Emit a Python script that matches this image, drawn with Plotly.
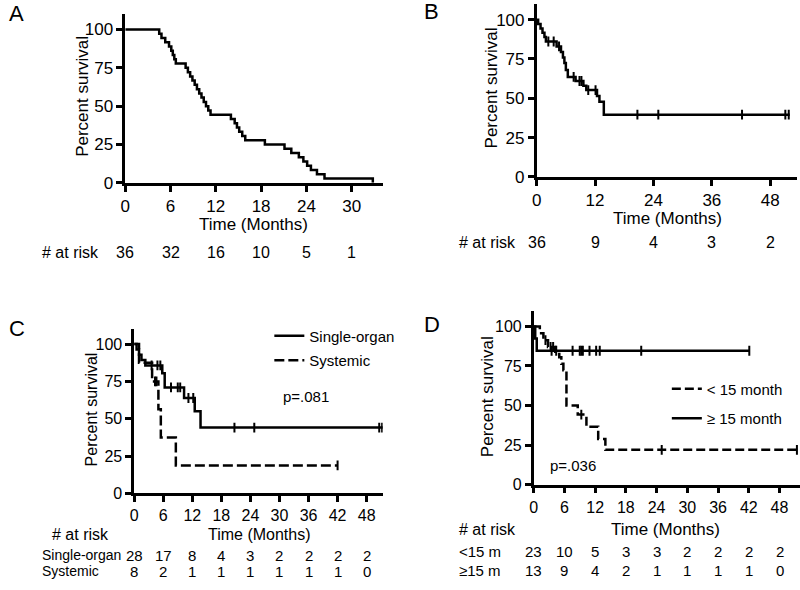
import numpy as np
import plotly.graph_objects as go

# ---------------- data ----------------
# Panel A (overall, n=36)
a_time = [0, 4.5, 4.8, 5.3, 5.8, 6.1, 6.3, 6.5, 6.7, 8.0, 8.3, 8.6, 8.9, 9.2, 9.5, 9.8, 10.1,
          10.4, 10.7, 11.0, 11.3, 14.0, 14.5, 14.8, 15.1, 15.5, 15.9, 18.5, 21.1, 22.0, 23.0,
          23.6, 24.1, 24.6, 25.4, 26.4, 32.8]
a_surv = [100, 97.2, 94.4, 91.7, 88.9, 86.1, 83.3, 80.6, 77.8, 75.0, 72.2, 69.4, 66.7, 63.9,
          61.1, 58.3, 55.6, 52.8, 50.0, 47.2, 44.4, 41.7, 38.9, 36.1, 33.3, 30.6, 27.8, 25.0,
          22.2, 19.4, 16.7, 13.9, 11.1, 8.3, 5.6, 2.8, 0]
a_risk_t = [0, 6, 12, 18, 24, 30]
a_risk = [36, 32, 16, 10, 5, 1]

# Panel B (n=36)
b_time = [0, 0.3, 0.8, 1.2, 1.6, 1.9, 4.1, 5.0, 5.4, 5.7, 6.0, 6.4, 8.0, 9.6, 10.2, 12.4,
          12.9, 13.8, 52.0]
b_surv = [100, 97.2, 94.4, 91.7, 88.9, 86.1, 83.0, 79.5, 76.0, 72.5, 68.0, 63.6, 61.0, 58.0,
          55.2, 51.5, 47.8, 39.6, 39.6]
b_cens = [2.4, 3.5, 4.6, 7.6, 8.8, 9.2, 10.6, 12.1, 20.7, 25.0, 42.2, 51.1, 51.8]
b_risk_t = [0, 12, 24, 36, 48]
b_risk = [36, 9, 4, 3, 2]

# Panel C
c1_name = "Single-organ"
c1_time = [0, 0.5, 1.0, 1.5, 2.3, 5.8, 6.3, 10.3, 12.5, 13.7, 51.5]
c1_surv = [100, 96.4, 92.9, 89.3, 85.7, 80.4, 71.0, 63.9, 55.0, 44.1, 44.1]
c1_cens = [3.6, 4.8, 5.4, 7.6, 9.0, 9.5, 11.2, 12.2, 20.7, 24.8, 50.6, 51.2]
c2_name = "Systemic"
c2_time = [0, 1.0, 3.7, 5.0, 5.5, 8.6, 42.0]
c2_surv = [100, 87.5, 75.0, 56.3, 37.5, 18.8, 18.8]
c2_cens = [4.3, 4.6, 42.0]
c_risk_t = [0, 6, 12, 18, 24, 30, 36, 42, 48]
c_risk_single = [28, 17, 8, 4, 3, 2, 2, 2, 2]
c_risk_sys = [8, 2, 1, 1, 1, 1, 1, 1, 0]
c_pval = "p=.081"

# Panel D
d1_name = "< 15 month"
d1_time = [0, 1.2, 1.9, 2.8, 4.2, 5.0, 5.4, 5.8, 6.4, 8.6, 10.3, 12.6, 14.0, 52.0]
d1_surv = [100, 95.7, 91.3, 87.0, 84.0, 80.5, 76.4, 72.3, 50.0, 44.3, 36.6, 28.8, 22.0, 22.0]
d1_cens = [2.3, 3.3, 3.8, 9.3, 25.0, 51.4]
d2_name = "≥ 15 month"
d2_time = [0, 0.3, 0.6, 42.1]
d2_surv = [100, 92.3, 84.6, 84.6]
d2_cens = [3.5, 4.4, 7.6, 9.0, 9.3, 9.6, 10.9, 12.2, 12.9, 21.0, 42.1]
d_risk_t = [0, 6, 12, 18, 24, 30, 36, 42, 48]
d_risk_lt = [23, 10, 5, 3, 3, 2, 2, 2, 2]
d_risk_ge = [13, 9, 4, 2, 1, 1, 1, 1, 0]
d_pval = "p=.036"

y_ticks = [0, 25, 50, 75, 100]

# ---------------- figure ----------------
W, H = 800, 590
FONT = "Liberation Sans, Arial, sans-serif"
fig = go.Figure()


def px_x(p):
    return p / W


def px_y(p):
    return 1 - p / H


def step_at(times, surv, t):
    idx = np.searchsorted(np.array(times), t, side="right") - 1
    return [surv[i] for i in idx]


def add_curve(n, times, surv, cens, name=None, dash="solid", legend=None, group=None):
    xa, ya = f"x{n}", f"y{n}"
    fig.add_trace(go.Scatter(
        x=times, y=surv, mode="lines", line=dict(color="black", width=2.5, dash=dash, shape="hv"),
        xaxis=xa, yaxis=ya, name=name or "", showlegend=name is not None,
        legend=legend or "legend", legendgroup=group, hoverinfo="skip"))
    if cens:
        fig.add_trace(go.Scatter(
            x=cens, y=step_at(times, surv, cens), mode="markers",
            marker=dict(symbol="line-ns", size=7, line=dict(color="black", width=2)),
            xaxis=xa, yaxis=ya, showlegend=False, hoverinfo="skip"))


add_curve(1, a_time, a_surv, [])
add_curve(2, b_time, b_surv, b_cens)
add_curve(3, c1_time, c1_surv, c1_cens, name=c1_name, legend="legend", group="c1")
add_curve(3, c2_time, c2_surv, c2_cens, name=c2_name, dash="10px,4px", legend="legend", group="c2")
add_curve(4, d1_time, d1_surv, d1_cens, name=d1_name, dash="9px,4px", legend="legend2", group="d1")
add_curve(4, d2_time, d2_surv, d2_cens, name=d2_name, legend="legend2", group="d2")

# axis geometry (pixel positions of the plot areas)
panels = {
    1: dict(x0=121, x1=380, y0=186, y1=14.4, xr=34.1, xt=[0, 6, 12, 18, 24, 30], fs=17),
    2: dict(x0=535, x1=797, y0=180, y1=4, xr=53.5, xt=[0, 12, 24, 36, 48], fs=17),
    3: dict(x0=130, x1=380, y0=502, y1=334.8, xr=51.3, xt=c_risk_t, fs=16),
    4: dict(x0=532, x1=800, y0=493, y1=315.9, xr=52.0, xt=d_risk_t, fs=16),
}
axis_common = dict(showline=True, linecolor="black", linewidth=2.5, ticks="outside",
                   ticklen=6, tickwidth=2.5, tickcolor="black", showgrid=False,
                   zeroline=False)
lay = {}
for n, p in panels.items():
    sx = "" if n == 1 else str(n)
    tf = dict(family=FONT, size=p["fs"], color="black")
    lay[f"xaxis{sx}"] = dict(domain=[px_x(p["x0"]), px_x(p["x1"])], range=[0, p["xr"]],
                             tickvals=p["xt"], anchor=f"y{sx}", tickfont=tf, **axis_common)
    lay[f"yaxis{sx}"] = dict(domain=[px_y(p["y0"]), px_y(p["y1"])], range=[0, 110],
                             tickvals=y_ticks, anchor=f"x{sx}", tickfont=tf, **axis_common)

ann = []


def text(x, y, s, size=16, xref="paper", yref="paper", xanchor="center", angle=0, fam=FONT):
    ann.append(dict(x=x, y=y, xref=xref, yref=yref, text=s, showarrow=False,
                    xanchor=xanchor, yanchor="middle", textangle=angle,
                    font=dict(family=fam, size=size, color="black")))


# panel letters
text(px_x(2), px_y(14), "A", size=22, xanchor="left")
text(px_x(420), px_y(12), "B", size=22, xanchor="left")
text(px_x(2), px_y(334), "C", size=22, xanchor="left")
text(px_x(420), px_y(330), "D", size=22, xanchor="left")

# y titles
text(px_x(78), px_y(98), "Percent survival", size=17, angle=-90)
text(px_x(490), px_y(89), "Percent survival", size=17, angle=-90)
text(px_x(87), px_y(416), "Percent survival", size=16, angle=-90)
text(px_x(485), px_y(403), "Percent survival", size=17, angle=-90)

# x titles
text(px_x(250), px_y(228), "Time (Months)", size=17)
text(px_x(667), px_y(222), "Time (Months)", size=17)
text(px_x(256), px_y(544), "Time (Months)", size=16)
text(px_x(665), px_y(539), "Time (Months)", size=17)

# at risk labels
text(px_x(35), px_y(257), "# at risk", size=16, xanchor="left")
text(px_x(455), px_y(247), "# at risk", size=16, xanchor="left")
text(px_x(45), px_y(544), "# at risk", size=16, xanchor="left")
text(px_x(455), px_y(539), "# at risk", size=16, xanchor="left")

for t, v in zip(a_risk_t, a_risk):
    text(t, px_y(257), str(v), size=16, xref="x")
for t, v in zip(b_risk_t, b_risk):
    text(t, px_y(247), str(v), size=16, xref="x2")

text(px_x(35), px_y(565), c1_name, size=14, xanchor="left")
text(px_x(35), px_y(581), c2_name, size=14, xanchor="left")
for t, v1, v2 in zip(c_risk_t, c_risk_single, c_risk_sys):
    text(t, px_y(565), str(v1), size=15, xref="x3")
    text(t, px_y(581), str(v2), size=15, xref="x3")

text(px_x(455), px_y(561), "<15 m", size=15, xanchor="left")
text(px_x(455), px_y(580), "≥15 m", size=15, xanchor="left")
for t, v1, v2 in zip(d_risk_t, d_risk_lt, d_risk_ge):
    text(t, px_y(561), str(v1), size=15, xref="x4")
    text(t, px_y(580), str(v2), size=15, xref="x4")

# p-values
text(35.5, 65, c_pval, size=15, xref="x3", yref="y3")
text(7.6, 12.4, d_pval, size=15, xref="x4", yref="y4")

legend_common = dict(bgcolor="rgba(0,0,0,0)", borderwidth=0, xanchor="left", yanchor="top",
                     font=dict(family=FONT, size=15, color="black"), itemwidth=30)
fig.update_layout(
    width=W, height=H, margin=dict(l=0, r=0, t=0, b=0),
    paper_bgcolor="white", plot_bgcolor="white",
    legend=dict(x=px_x(266), y=px_y(325), tracegroupgap=2, **legend_common),
    legend2=dict(x=px_x(666), y=px_y(379), tracegroupgap=7, **legend_common),
    annotations=ann, **lay)

fig.write_html("out.html", config={"displayModeBar": False},
               post_script="document.body.style.margin='0';")
